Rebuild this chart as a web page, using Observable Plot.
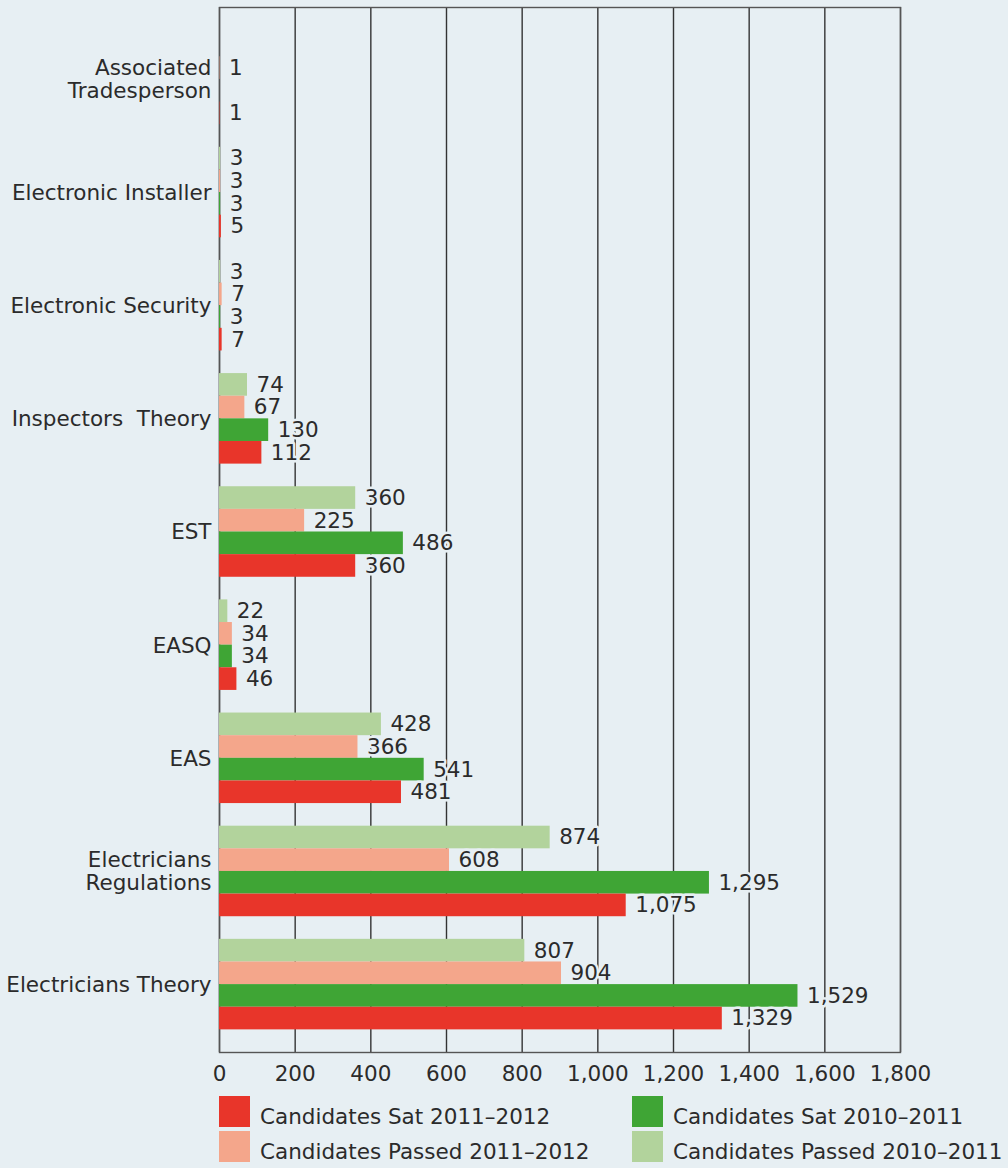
<!DOCTYPE html>
<html>
<head>
<meta charset="utf-8">
<script src="https://cdn.jsdelivr.net/npm/d3@7"></script>
<script src="https://cdn.jsdelivr.net/npm/@observablehq/plot@0.6"></script>
<style>
  html, body { margin: 0; padding: 0; background: #e7eff3; }
  #wrap { width: 1008px; font-family: "DejaVu Sans", sans-serif; color: #2b2b2b; }
  #legend { position: relative; width: 1008px; height: 76px; }
  .item { position: absolute; display: flex; align-items: flex-start; font-size: 21.5px; }
  .sw { width: 31px; height: 31px; margin-right: 10px; flex: none; }
  .lab { padding-top: 10px; line-height: 21px; white-space: nowrap; }
</style>
</head>
<body>
<div id="wrap">
  <div id="chart"></div>
  <div id="legend"></div>
</div>
<script>
// ---- data ----
const categories = [
  "Associated\nTradesperson",
  "Electronic Installer",
  "Electronic Security",
  "Inspectors\u00a0 Theory",
  "EST",
  "EASQ",
  "EAS",
  "Electricians\nRegulations",
  "Electricians Theory"
];
const seriesNames = [
  "Candidates Passed 2010–2011",
  "Candidates Passed 2011–2012",
  "Candidates Sat 2010–2011",
  "Candidates Sat 2011–2012"
];
const passed2010_2011 = [null, 3, 3, 74, 360, 22, 428, 874, 807];
const passed2011_2012 = [1, 3, 7, 67, 225, 34, 366, 608, 904];
const sat2010_2011    = [null, 3, 3, 130, 486, 34, 541, 1295, 1529];
const sat2011_2012    = [1, 5, 7, 112, 360, 46, 481, 1075, 1329];
const xTicks = [0, 200, 400, 600, 800, 1000, 1200, 1400, 1600, 1800];

// ---- styles ----
const bg = "#e7eff3";
const seriesColors = ["#b2d39c", "#f4a68b", "#3fa535", "#e8352a"];
const ink = "#2b2b2b";

const seriesValues = [passed2010_2011, passed2011_2012, sat2010_2011, sat2011_2012];
const rows = categories.flatMap((c, i) =>
  seriesNames.map((s, j) => ({category: c, series: s, value: seriesValues[j][i], key: c + "|" + s}))
).filter(d => d.value != null);

const yDomain = ["__top"].concat(categories.flatMap(c => seriesNames.map(s => c + "|" + s).concat([c + "|__gap"])));
const fmt = d3.format(",");

const chart = Plot.plot({
  width: 1008,
  height: 1092,
  marginLeft: 219,
  marginRight: 108,
  marginTop: 7,
  marginBottom: 40,
  style: {background: bg, fontFamily: "DejaVu Sans, sans-serif", fontSize: "21.5px", color: ink},
  x: {domain: [0, 1800], axis: null},
  y: {domain: yDomain, axis: null, padding: 0, round: false, insetTop: 4},
  color: {domain: seriesNames, range: seriesColors},
  marks: [
    Plot.ruleX(xTicks, {stroke: "#333", strokeWidth: 1.4}),
    Plot.frame({stroke: "#555", strokeWidth: 1.4}),
    Plot.barX(rows, {x: "value", y: "key", fill: "series"}),
    Plot.text(rows, {
      x: "value", y: "key", text: d => fmt(d.value),
      textAnchor: "start", dx: 9, fill: ink, stroke: bg, strokeWidth: 5, fontSize: 21.5
    }),
    Plot.text(categories, {
      x: 0, y: c => c + "|" + seriesNames[1], text: d => d,
      textAnchor: "end", dx: -8, dy: 11.3, fill: ink, fontSize: 21.5, lineHeight: 1.07
    }),
    Plot.axisX({ticks: xTicks, tickSize: 0, tickPadding: 13, tickFormat: fmt, fontSize: 21.5, fill: ink, label: null})
  ]
});
document.getElementById("chart").appendChild(chart);

// ---- legend ----
const legendOrder = [
  {name: seriesNames[3], left: 219, top: 4},
  {name: seriesNames[1], left: 219, top: 39},
  {name: seriesNames[2], left: 632, top: 4},
  {name: seriesNames[0], left: 632, top: 39}
];
const legend = document.getElementById("legend");
for (const it of legendOrder) {
  const div = document.createElement("div");
  div.className = "item";
  div.style.left = it.left + "px";
  div.style.top = it.top + "px";
  const sw = document.createElement("div");
  sw.className = "sw";
  sw.style.background = seriesColors[seriesNames.indexOf(it.name)];
  const lab = document.createElement("span");
  lab.className = "lab";
  lab.textContent = it.name;
  div.appendChild(sw);
  div.appendChild(lab);
  legend.appendChild(div);
}
</script>
</body>
</html>
